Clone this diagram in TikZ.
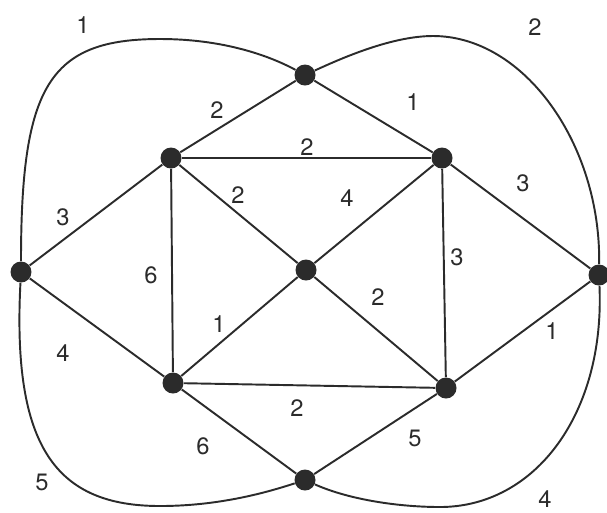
\documentclass[tikz,border=0pt]{standalone}
\usepackage{fontspec}
\setmainfont{TeX Gyre Heros}
\usepackage{tikz}
\usetikzlibrary{positioning}
\definecolor{ink}{HTML}{2B2B2B}

\begin{document}
\begin{tikzpicture}[
    x=0.02cm, y=-0.02cm,
    every node/.style={font=\fontsize{13.5}{15}\selectfont},
    vtx/.style={circle, fill=ink, inner sep=0pt, minimum size=0.42cm},
    edge/.style={draw=ink, line width=1.1pt},
    wlab/.style={text=ink, inner sep=1pt}
]
\useasboundingbox (0,0) rectangle (607,512);

% Vertices
\node[vtx] (top)  at (305,75)  {};
\node[vtx] (ul)   at (171,158) {};
\node[vtx] (ur)   at (442,158) {};
\node[vtx] (lft)  at (21,272)  {};
\node[vtx] (mid)  at (306,270) {};
\node[vtx] (rgt)  at (599,275) {};
\node[vtx] (ll)   at (173,383) {};
\node[vtx] (lr)   at (446,388) {};
\node[vtx] (bot)  at (305,480) {};

% Straight edges
\draw[edge] (top) -- (ul);
\draw[edge] (top) -- (ur);
\draw[edge] (ul) -- (ur);
\draw[edge] (ul) -- (lft);
\draw[edge] (ul) -- (mid);
\draw[edge] (ul) -- (ll);
\draw[edge] (ur) -- (mid);
\draw[edge] (ur) -- (lr);
\draw[edge] (ur) -- (rgt);
\draw[edge] (lft) -- (ll);
\draw[edge] (mid) -- (ll);
\draw[edge] (mid) -- (lr);
\draw[edge] (ll) -- (lr);
\draw[edge] (ll) -- (bot);
\draw[edge] (lr) -- (bot);
\draw[edge] (lr) -- (rgt);

% Outer curved edges
\draw[edge] (lft) .. controls (21,86) and (49,39) .. (160,39)
    .. controls (222,39) and (268,55) .. (top);
\draw[edge] (top) .. controls (342,58) and (392,36) .. (433,36)
    .. controls (524,36) and (601,144) .. (rgt);
\draw[edge] (lft) .. controls (12,447) and (56,506) .. (160,506)
    .. controls (220,506) and (268,492) .. (bot);
\draw[edge] (bot) .. controls (350,500) and (400,507) .. (440,507)
    .. controls (535,507) and (605,414) .. (rgt);

% Weights
\node[wlab] (w1)  at (83,25)   {1};
\node[wlab] (w2)  at (535,27)  {2};
\node[wlab] (w3)  at (217,110) {2};
\node[wlab] (w4)  at (413,102) {1};
\node[wlab] (w5)  at (307,147) {2};
\node[wlab] (w6)  at (63,217)  {3};
\node[wlab] (w7)  at (238,195) {2};
\node[wlab] (w8)  at (347,198) {4};
\node[wlab] (w9)  at (523,183) {3};
\node[wlab] (w10) at (151,275) {6};
\node[wlab] (w11) at (457,257) {3};
\node[wlab] (w12) at (219,324) {1};
\node[wlab] (w13) at (378,297) {2};
\node[wlab] (w14) at (552,331) {1};
\node[wlab] (w15) at (63,353)  {4};
\node[wlab] (w16) at (297,408) {2};
\node[wlab] (w17) at (203,446) {6};
\node[wlab] (w18) at (415,438) {5};
\node[wlab] (w19) at (42,482)  {5};
\node[wlab] (w20) at (545,499) {4};
\end{tikzpicture}
\end{document}
